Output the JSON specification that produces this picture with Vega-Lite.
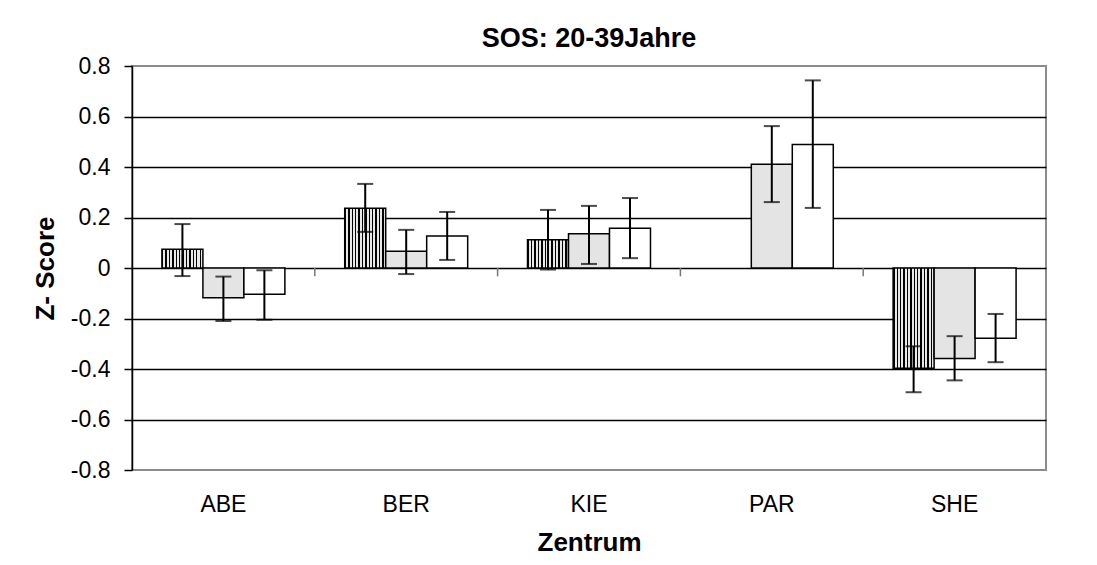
{
  "$schema": "https://vega.github.io/schema/vega-lite/v6.json",
  "width": 914,
  "height": 404,
  "autosize": {"type": "none"},
  "padding": {"left": 132, "top": 66, "right": 51, "bottom": 95},
  "background": "white",
  "config": {
    "font": "Liberation Sans",
    "view": {"stroke": "#8c8c8c", "strokeWidth": 2}
  },
  "title": {
    "text": "SOS: 20-39Jahre",
    "fontSize": 27,
    "fontWeight": "bold",
    "font": "Liberation Sans",
    "color": "black",
    "anchor": "middle",
    "offset": 2
  },
  "datasets": {
    "bars": [
      {"Zentrum": "ABE", "Serie": "S1", "z": 0.074, "lo": -0.032, "hi": 0.174},
      {"Zentrum": "ABE", "Serie": "S2", "z": -0.118, "lo": -0.21, "hi": -0.034},
      {"Zentrum": "ABE", "Serie": "S3", "z": -0.104, "lo": -0.205, "hi": -0.009},
      {"Zentrum": "BER", "Serie": "S1", "z": 0.237, "lo": 0.143, "hi": 0.333},
      {"Zentrum": "BER", "Serie": "S2", "z": 0.066, "lo": -0.024, "hi": 0.151},
      {"Zentrum": "BER", "Serie": "S3", "z": 0.127, "lo": 0.032, "hi": 0.222},
      {"Zentrum": "KIE", "Serie": "S1", "z": 0.112, "lo": -0.006, "hi": 0.23},
      {"Zentrum": "KIE", "Serie": "S2", "z": 0.136, "lo": 0.016, "hi": 0.246},
      {"Zentrum": "KIE", "Serie": "S3", "z": 0.157, "lo": 0.039, "hi": 0.277},
      {"Zentrum": "PAR", "Serie": "S2", "z": 0.411, "lo": 0.261, "hi": 0.562},
      {"Zentrum": "PAR", "Serie": "S3", "z": 0.489, "lo": 0.238, "hi": 0.743},
      {"Zentrum": "SHE", "Serie": "S1", "z": -0.397, "lo": -0.492, "hi": -0.31},
      {"Zentrum": "SHE", "Serie": "S2", "z": -0.358, "lo": -0.445, "hi": -0.27},
      {"Zentrum": "SHE", "Serie": "S3", "z": -0.278, "lo": -0.373, "hi": -0.182}
    ],
    "ticks": [
      {"Zentrum": "BER", "a": 0, "b": -0.033},
      {"Zentrum": "KIE", "a": 0, "b": -0.033},
      {"Zentrum": "PAR", "a": 0, "b": -0.033},
      {"Zentrum": "SHE", "a": 0, "b": -0.033}
    ]
  },
  "encoding": {
    "x": {
      "field": "Zentrum",
      "type": "nominal",
      "scale": {"domain": ["ABE", "BER", "KIE", "PAR", "SHE"], "paddingInner": 0, "paddingOuter": 0},
      "axis": {
        "title": "Zentrum",
        "titleFontSize": 26,
        "titleFontWeight": "bold",
        "titleColor": "black",
        "titlePadding": 13,
        "labelFontSize": 23,
        "labelColor": "black",
        "labelAngle": 0,
        "labelPadding": 23,
        "ticks": false,
        "domain": false
      }
    }
  },
  "layer": [
    {
      "data": {"name": "bars"},
      "transform": [{"filter": "datum.Serie === 'S1'"}],
      "mark": {
        "type": "bar",
        "stroke": "black",
        "strokeWidth": 1.5,
        "fill": {
          "gradient": "linear", "x1": 0, "y1": 0, "x2": 1, "y2": 0,
          "stops": [
            {"offset": 0, "color": "black"}, {"offset": 0.035, "color": "black"}, {"offset": 0.035, "color": "#e8e8e8"}, {"offset": 0.083, "color": "#e8e8e8"},
            {"offset": 0.083, "color": "black"}, {"offset": 0.118, "color": "black"}, {"offset": 0.118, "color": "#e8e8e8"}, {"offset": 0.167, "color": "#e8e8e8"},
            {"offset": 0.167, "color": "black"}, {"offset": 0.202, "color": "black"}, {"offset": 0.202, "color": "#e8e8e8"}, {"offset": 0.25, "color": "#e8e8e8"},
            {"offset": 0.25, "color": "black"}, {"offset": 0.285, "color": "black"}, {"offset": 0.285, "color": "#e8e8e8"}, {"offset": 0.333, "color": "#e8e8e8"},
            {"offset": 0.333, "color": "black"}, {"offset": 0.368, "color": "black"}, {"offset": 0.368, "color": "#e8e8e8"}, {"offset": 0.417, "color": "#e8e8e8"},
            {"offset": 0.417, "color": "black"}, {"offset": 0.452, "color": "black"}, {"offset": 0.452, "color": "#e8e8e8"}, {"offset": 0.5, "color": "#e8e8e8"},
            {"offset": 0.5, "color": "black"}, {"offset": 0.535, "color": "black"}, {"offset": 0.535, "color": "#e8e8e8"}, {"offset": 0.583, "color": "#e8e8e8"},
            {"offset": 0.583, "color": "black"}, {"offset": 0.618, "color": "black"}, {"offset": 0.618, "color": "#e8e8e8"}, {"offset": 0.667, "color": "#e8e8e8"},
            {"offset": 0.667, "color": "black"}, {"offset": 0.702, "color": "black"}, {"offset": 0.702, "color": "#e8e8e8"}, {"offset": 0.75, "color": "#e8e8e8"},
            {"offset": 0.75, "color": "black"}, {"offset": 0.785, "color": "black"}, {"offset": 0.785, "color": "#e8e8e8"}, {"offset": 0.833, "color": "#e8e8e8"},
            {"offset": 0.833, "color": "black"}, {"offset": 0.868, "color": "black"}, {"offset": 0.868, "color": "#e8e8e8"}, {"offset": 0.917, "color": "#e8e8e8"},
            {"offset": 0.917, "color": "black"}, {"offset": 0.952, "color": "black"}, {"offset": 0.952, "color": "#e8e8e8"}, {"offset": 1, "color": "#e8e8e8"}
          ]
        }
      },
      "encoding": {
        "xOffset": {"field": "Serie", "type": "nominal", "scale": {"domain": ["S1", "S2", "S3"], "paddingInner": 0, "paddingOuter": 0.73}},
        "y": {
          "field": "z",
          "type": "quantitative",
          "scale": {"domain": [-0.8, 0.8], "nice": false, "zero": false},
          "axis": {
            "title": "Z- Score",
            "titleFontSize": 26,
            "titleFontWeight": "bold",
            "titleColor": "black",
            "titlePadding": 12,
            "values": [-0.8, -0.6, -0.4, -0.2, 0, 0.2, 0.4, 0.6, 0.8],
            "labelExpr": "datum.value == 0 ? '0' : (datum.value < 0 ? '-' : '') + format(abs(datum.value), '.1f')",
            "labelFontSize": 23,
            "labelColor": "black",
            "labelPadding": 14,
            "tickSize": 8,
            "tickColor": "black",
            "tickWidth": 1.5,
            "domainColor": "black",
            "domainWidth": 1.5,
            "grid": true,
            "gridColor": "black",
            "gridWidth": 1.3,
            "gridOpacity": {"condition": {"test": "abs(datum.value) > 0.75", "value": 0}, "value": 1}
          }
        }
      }
    },
    {
      "data": {"name": "bars"},
      "transform": [{"filter": "datum.Serie === 'S2'"}],
      "mark": {"type": "bar", "stroke": "black", "strokeWidth": 1.5, "fill": "#e4e4e4"},
      "encoding": {
        "xOffset": {"field": "Serie", "type": "nominal"},
        "y": {"field": "z", "type": "quantitative"}
      }
    },
    {
      "data": {"name": "bars"},
      "transform": [{"filter": "datum.Serie === 'S3'"}],
      "mark": {"type": "bar", "stroke": "black", "strokeWidth": 1.5, "fill": "white"},
      "encoding": {
        "xOffset": {"field": "Serie", "type": "nominal"},
        "y": {"field": "z", "type": "quantitative"}
      }
    },
    {
      "data": {"name": "ticks"},
      "mark": {"type": "rule", "color": "#777777", "strokeWidth": 1.5},
      "encoding": {
        "x": {"field": "Zentrum", "type": "nominal", "bandPosition": 0},
        "y": {"field": "a", "type": "quantitative"},
        "y2": {"field": "b"}
      }
    },
    {
      "data": {"name": "bars"},
      "mark": {"type": "rule", "color": "black", "strokeWidth": 2},
      "encoding": {
        "xOffset": {"field": "Serie", "type": "nominal"},
        "y": {"field": "lo", "type": "quantitative"},
        "y2": {"field": "hi"}
      }
    },
    {
      "data": {"name": "bars"},
      "mark": {"type": "tick", "color": "black", "thickness": 2, "size": 16, "orient": "horizontal"},
      "encoding": {
        "xOffset": {"field": "Serie", "type": "nominal"},
        "y": {"field": "lo", "type": "quantitative"}
      }
    },
    {
      "data": {"name": "bars"},
      "mark": {"type": "tick", "color": "black", "thickness": 2, "size": 16, "orient": "horizontal"},
      "encoding": {
        "xOffset": {"field": "Serie", "type": "nominal"},
        "y": {"field": "hi", "type": "quantitative"}
      }
    }
  ]
}
